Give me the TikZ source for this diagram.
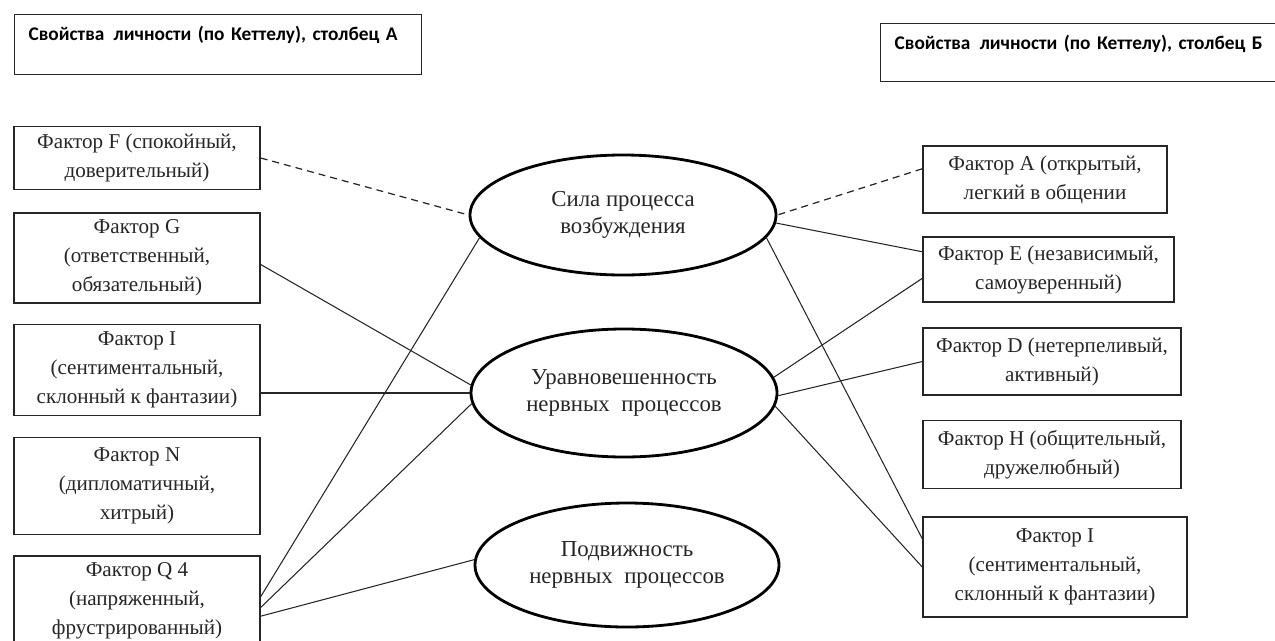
\documentclass[tikz,border=0pt]{standalone}
\usepackage{fontspec}
\setmainfont{Liberation Serif}
\newfontfamily\hdrfont{Carlito}
\usetikzlibrary{shapes.geometric}
\begin{document}
\begin{tikzpicture}[x=0.2mm,y=-0.2mm,
  box/.style={draw=black!85, line width=0.8pt, align=center, inner sep=0pt, text=black!85, font=\fontsize{12}{16.5}\selectfont},
  trait/.style={ellipse, draw=black, line width=1.6pt, align=center, inner sep=0pt, text=black!85, font=\fontsize{13}{15}\selectfont},
  hdr/.style={draw=black!85, line width=0.8pt, anchor=north west, align=left, inner xsep=2.8mm, inner ysep=1.6mm, text height=3.6mm, font=\hdrfont\bfseries\fontsize{11}{13}\selectfont},
  link/.style={draw=black!85, line width=0.6pt},
  weak/.style={link, line width=0.7pt, dash pattern=on 1.4mm off 1mm}]
\path[use as bounding box, clip] (0,0) rectangle (1275,640);
\node[hdr, text width=75.8mm, text depth=5.2mm] (colA) at (14,14) {Свойства\hspace{0.15em} личности (по Кеттелу), столбец А};
\node[hdr, text width=84mm, text depth=4.8mm] (colB) at (880,23) {Свойства\hspace{0.15em} личности (по Кеттелу), столбец Б};
\node[box, minimum width=49.2mm, minimum height=12.6mm] (lf) at (137,158) {Фактор F (спокойный,\\доверительный)};
\node[box, minimum width=49.2mm, minimum height=18mm] (lg) at (137,258) {Фактор G\\(ответственный,\\обязательный)};
\node[box, minimum width=49.2mm, minimum height=18.2mm] (li) at (137,370) {Фактор I\\(сентиментальный,\\склонный к фантазии)};
\node[box, minimum width=49.2mm, minimum height=19.4mm] (ln) at (137,486) {Фактор N\\(дипломатичный,\\хитрый)};
\node[box, minimum width=49.2mm, minimum height=18mm] (lq) at (137,601) {Фактор Q 4\\(напряженный,\\фрустрированный)};
\node[box, minimum width=48.8mm, minimum height=13.4mm] (ra) at (1045,179.5) {Фактор A (открытый,\\легкий в общении};
\node[box, minimum width=50.2mm, minimum height=13mm] (re) at (1048.5,269.5) {Фактор E (независимый,\\самоуверенный)};
\node[box, minimum width=51.6mm, minimum height=13.4mm] (rd) at (1052,361.5) {Фактор D (нетерпеливый,\\активный)};
\node[box, minimum width=51.6mm, minimum height=13.6mm] (rh) at (1052,454.5) {Фактор H (общительный,\\дружелюбный)};
\node[box, minimum width=52.8mm, minimum height=20mm] (ri) at (1055,567) {Фактор I\\(сентиментальный,\\склонный к фантазии)};
\node[trait, minimum width=61.2mm, minimum height=24mm] (sila) at (623,215) {Сила процесса\\возбуждения};
\node[trait, minimum width=61.2mm, minimum height=25.6mm] (urav) at (624,393) {Уравновешенность\\нервных~ процессов};
\node[trait, minimum width=60.8mm, minimum height=24.8mm] (podv) at (627,565) {Подвижность\\нервных~ процессов};
\draw[weak] (lf.east) -- (sila.west);
\draw[weak] (ra.175) -- (sila.east);
\draw[link] (lg.-3) -- (urav.177);
\draw[link] (li.east |- urav.west) -- (urav.west);
\draw[link] (lq.2) -- (sila.189);
\draw[link] (lq.-3) -- (urav.184);
\draw[link] (lq.-7) -- (podv.178);
\draw[link] (sila.-3) -- (re.172);
\draw[link] (sila.-9) -- (ri.168);
\draw[link] (urav.6) -- (re.184);
\draw[link] (urav.-1) -- (rd.west);
\draw[link] (urav.-5) -- (ri.west);
\end{tikzpicture}
\end{document}
